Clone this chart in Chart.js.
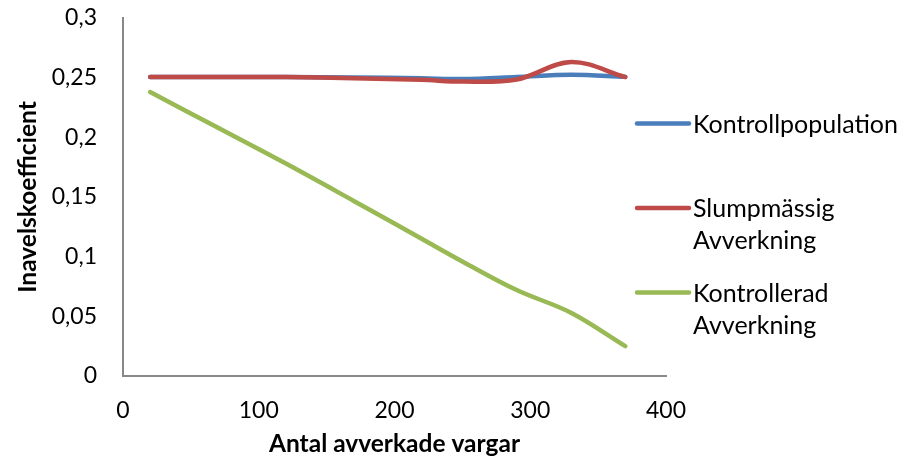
<!DOCTYPE html>
<html>
<head>
<meta charset="utf-8">
<script src="https://cdn.jsdelivr.net/npm/chart.js@4/dist/chart.umd.min.js"></script>
<style>
  html, body { margin: 0; padding: 0; background: #fff; }
  #wrap { width: 915px; height: 460px; position: relative; }
</style>
</head>
<body>
<div id="wrap"><canvas id="inavelChart"></canvas></div>
<script>
// values
const avverkade = [20, 70, 120, 170, 220, 250, 290, 330, 370];
const kontrollpopulation = [0.2505, 0.2505, 0.2505, 0.2502, 0.2495, 0.2488, 0.2505, 0.2525, 0.2507];
const slumpmassig = [0.2505, 0.2505, 0.2505, 0.2495, 0.2482, 0.2467, 0.2485, 0.2632, 0.2505];
const kontrollerad = [0.238, 0.208, 0.178, 0.1467, 0.115, 0.096, 0.072, 0.053, 0.025];

const seriesNames = ['Kontrollpopulation', 'Slumpmässig\nAvverkning', 'Kontrollerad\nAvverkning'];
const seriesColors = ['#4A7EBB', '#BE4B48', '#98B954'];
const yTicks = [0, 0.05, 0.1, 0.15, 0.2, 0.25, 0.3];

const FONT = 'Lato, "Open Sans", sans-serif';

function toPoints(values) {
  return values.map((y, i) => ({ x: avverkade[i], y }));
}

function makeDataset(values, idx) {
  return {
    label: seriesNames[idx],
    data: toPoints(values),
    borderColor: seriesColors[idx],
    backgroundColor: seriesColors[idx],
    borderWidth: 4.5,
    borderCapStyle: 'round',
    borderJoinStyle: 'round',
    pointRadius: 0,
    tension: 0.35,
    fill: false,
    // later series are painted over earlier ones, as in the original
    order: seriesNames.length - idx,
  };
}

// legend drawn at the right, each name may wrap onto two lines
const sideLegend = {
  id: 'sideLegend',
  afterDraw(chart, args, opts) {
    const { ctx } = chart;
    ctx.save();
    ctx.font = `${opts.fontSize}px ${FONT}`;
    ctx.fillStyle = '#000';
    ctx.textBaseline = 'middle';
    ctx.textAlign = 'left';
    chart.data.datasets.forEach((ds, i) => {
      const y = opts.top + i * opts.spacing;
      ctx.strokeStyle = ds.borderColor;
      ctx.lineWidth = ds.borderWidth;
      ctx.lineCap = 'round';
      ctx.beginPath();
      ctx.moveTo(opts.lineStart, y);
      ctx.lineTo(opts.lineStart + opts.lineLength, y);
      ctx.stroke();
      ds.label.split('\n').forEach((line, j) => {
        ctx.fillText(line, opts.textStart, y + 1 + j * opts.lineHeight);
      });
    });
    ctx.restore();
  },
};

const ctx = document.getElementById('inavelChart');
const inavelChart = new Chart(ctx, {
  type: 'line',
  plugins: [sideLegend],
  data: {
    datasets: [
      makeDataset(kontrollpopulation, 0),
      makeDataset(slumpmassig, 1),
      makeDataset(kontrollerad, 2),
    ],
  },
  options: {
    responsive: true,
    maintainAspectRatio: false,
    animation: false,
    layout: {
      padding: { left: 0, top: 18, right: 249, bottom: 0 },
    },
    plugins: {
      legend: { display: false },
      tooltip: { enabled: false },
      sideLegend: {
        fontSize: 25,
        top: 123.5,
        spacing: 84.5,
        lineHeight: 32,
        lineStart: 637,
        lineLength: 52,
        textStart: 693,
      },
    },
    scales: {
      x: {
        type: 'linear',
        min: 0,
        max: 400,
        grid: { display: false, drawTicks: false },
        border: { display: true, color: '#888888', width: 2 },
        ticks: {
          stepSize: 100,
          padding: 21,
          color: '#000',
          font: { family: FONT, size: 23 },
        },
        title: {
          display: true,
          text: 'Antal avverkade vargar',
          color: '#000',
          font: { family: FONT, size: 24.5, weight: 'bold' },
          padding: { top: 0, bottom: 1.5 },
        },
        afterFit(scale) {
          scale.height = 84;
        },
      },
      y: {
        min: 0,
        max: 0.3,
        grid: { display: false, drawTicks: false },
        border: { display: true, color: '#888888', width: 2 },
        afterBuildTicks(scale) {
          scale.ticks = yTicks.map(value => ({ value }));
        },
        ticks: {
          padding: 26,
          color: '#000',
          font: { family: FONT, size: 23 },
          callback: value => String(Math.round(value * 100) / 100).replace('.', ','),
        },
        title: {
          display: true,
          text: 'Inavelskoefficient',
          color: '#000',
          font: { family: FONT, size: 24.5, weight: 'bold' },
          padding: { top: 13, bottom: 0 },
        },
        afterFit(scale) {
          scale.width = 123;
          // tick padding should only move labels sideways, not shrink the plot
          scale.paddingTop = 0;
          scale.paddingBottom = 0;
        },
      },
    },
  },
});
</script>
</body>
</html>
